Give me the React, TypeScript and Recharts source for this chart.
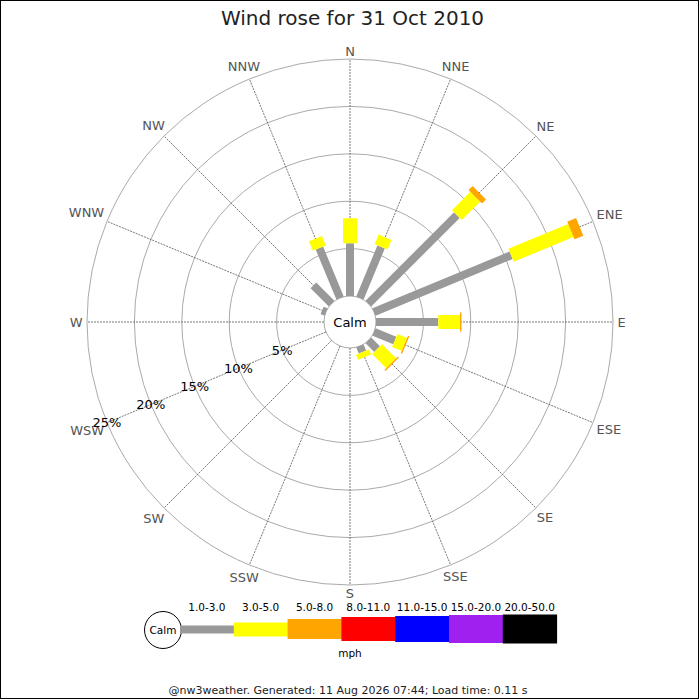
import React from 'react';
import {
  RadarChart,
  Radar,
  PolarGrid,
  PolarAngleAxis,
  PolarRadiusAxis,
  Legend,
  Customized,
} from 'recharts';

// Compass points, clockwise from north
const directions = ['N', 'NNE', 'NE', 'ENE', 'E', 'ESE', 'SE', 'SSE', 'S', 'SSW', 'SW', 'WSW', 'W', 'WNW', 'NW', 'NNW'];

// Speed bands (mph)
const speedBands = ['1.0-3.0', '3.0-5.0', '5.0-8.0', '8.0-11.0', '11.0-15.0', '15.0-20.0', '20.0-50.0'];

// % of the day per direction, one array per speed band
const pct1to3 = [5.56, 5.83, 13.2, 15.65, 6.57, 2.37, 1.3, 0.69, 0, 0, 0, 0, 0, 0.45, 2.72, 5.7];
const pct3to5 = [2.64, 1.1, 2.75, 6.83, 2.29, 1.1, 2.1, 0.58, 0, 0, 0, 0, 0, 0, 0, 1.08];
const pct5to8 = [0, 0, 0.6, 1.0, 0.15, 0.15, 0.15, 0, 0, 0, 0, 0, 0, 0, 0, 0];
const pct8to11 = [0, 0, 0, 0, 0, 0, 0, 0, 0, 0, 0, 0, 0, 0, 0, 0];
const pct11to15 = [0, 0, 0, 0, 0, 0, 0, 0, 0, 0, 0, 0, 0, 0, 0, 0];
const pct15to20 = [0, 0, 0, 0, 0, 0, 0, 0, 0, 0, 0, 0, 0, 0, 0, 0];
const pct20to50 = [0, 0, 0, 0, 0, 0, 0, 0, 0, 0, 0, 0, 0, 0, 0, 0];

const radiusTicks = [0, 5, 10, 15, 20, 25];

const bandSeries = [pct1to3, pct3to5, pct5to8, pct8to11, pct11to15, pct15to20, pct20to50];

// styles
const BAND_COLORS = ['#999999', '#ffff00', '#ffa500', '#ff0000', '#0000ff', '#a020f0', '#000000'];
const BAND_WIDTHS = [8, 14, 19, 23, 25, 27, 28];
const FONT = '"DejaVu Sans", sans-serif';
// rough DejaVu Sans glyph widths (em) for the compass letters
const GLYPH_EM: Record<string, number> = { N: 0.748, E: 0.632, S: 0.635, W: 0.989 };

const W = 697;
const H = 697;
const CX = 349;
const CY = 321;

// each row holds [start, end] of every band, stacked outwards
const chartData = directions.map((dir, i) => {
  const row: Record<string, unknown> = { dir };
  let acc = 0;
  bandSeries.forEach((s, b) => {
    row[`b${b}`] = [acc, acc + s[i]];
    acc += s[i];
  });
  return row;
});

function BandBars(props: any) {
  const { points = [], baseLinePoints = [], barWidth, color } = props;
  return (
    <g>
      {points.map((pt: any, k: number) => {
        const v = pt.value;
        if (!Array.isArray(v) || !(v[1] > v[0])) return null;
        const base = baseLinePoints[k];
        if (!base) return null;
        const dx = pt.x - base.x;
        const dy = pt.y - base.y;
        const len = Math.sqrt(dx * dx + dy * dy) || 1;
        const px = (-dy / len) * (barWidth / 2);
        const py = (dx / len) * (barWidth / 2);
        const poly = [
          [base.x + px, base.y + py],
          [pt.x + px, pt.y + py],
          [pt.x - px, pt.y - py],
          [base.x - px, base.y - py],
        ]
          .map((p) => p.join(','))
          .join(' ');
        return <polygon key={k} points={poly} fill={color} stroke="none" />;
      })}
    </g>
  );
}

// label box sits just outside the outer ring, centred on the spoke
function DirectionTick(props: any) {
  const { x, y, cx, cy, payload } = props;
  const label: string = payload.value;
  const fs = 13;
  const ox = cx ?? CX;
  const oy = cy ?? CY;
  const dx = x - ox;
  const dy = y - oy;
  const len = Math.sqrt(dx * dx + dy * dy) || 1;
  const ux = dx / len;
  const uy = dy / len;
  const halfW = (label.split('').reduce((s, c) => s + (GLYPH_EM[c] ?? 0.7), 0) * fs) / 2;
  const halfH = 3.5;
  const r = 267.5 + halfW * Math.abs(ux) + halfH * Math.abs(uy);
  return (
    <text
      x={ox + ux * r}
      y={oy + uy * r}
      textAnchor="middle"
      dominantBaseline="central"
      fill="#555"
      fontSize={fs}
      fontFamily={FONT}
    >
      {label}
    </text>
  );
}

function PercentTick(props: any) {
  const { x, y, payload } = props;
  if (!payload.value) return <g />;
  return (
    <text x={x} y={y} textAnchor="middle" dominantBaseline="central" fill="#000" fontSize={13} fontFamily={FONT}>
      {payload.value}%
    </text>
  );
}

// legend strip: calm circle then one block per speed band
function SpeedLegend() {
  const x0 = 179;
  const step = 53.8;
  const mid = 38.5;
  return (
    <svg width={W} height={80} style={{ display: 'block', fontFamily: FONT }}>
      <circle cx={162} cy={39} r={18.5} fill="#fff" stroke="#000" />
      <text x={162} y={39} textAnchor="middle" dominantBaseline="central" fontSize={10.5}>
        Calm
      </text>
      {speedBands.map((label, i) => (
        <g key={label}>
          <rect
            x={x0 + i * step}
            y={mid - BAND_WIDTHS[i] / 2 - (i > 1 ? 1 : 0)}
            width={step + 0.5}
            height={BAND_WIDTHS[i] + (i > 1 ? 1 : 0)}
            fill={BAND_COLORS[i]}
          />
          <text x={x0 + (i + 0.5) * step} y={16} textAnchor="middle" dominantBaseline="central" fontSize={10.5} fill="#000">
            {label}
          </text>
        </g>
      ))}
      <text x={349} y={62} textAnchor="middle" dominantBaseline="central" fontSize={10.5} fill="#000">
        mph
      </text>
    </svg>
  );
}

export default function App() {
  return (
    <div
      style={{
        position: 'absolute',
        left: 0,
        top: 0,
        width: 699,
        height: 699,
        border: '1px solid #000',
        boxSizing: 'border-box',
        background: '#fff',
      }}
    >
      <RadarChart
        width={W}
        height={H}
        data={chartData}
        cx={CX}
        cy={CY}
        innerRadius={26}
        outerRadius={263}
        startAngle={90}
        endAngle={-270}
        margin={{ top: 0, right: 0, bottom: 0, left: 0 }}
      >
        <PolarGrid gridType="circle" radialLines={false} stroke="#aaa" strokeWidth={1} />
        <PolarGrid gridType="circle" polarRadius={[]} stroke="#555" strokeWidth={0.8} strokeDasharray="2 1" />
        <PolarAngleAxis dataKey="dir" type="category" axisLine={false} tickLine={false} tick={<DirectionTick />} />
        <PolarRadiusAxis
          angle={202.5}
          type="number"
          domain={[0, 25]}
          ticks={radiusTicks}
          axisLine={false}
          tickLine={false}
          tick={<PercentTick />}
        />
        {bandSeries.map((_, i) => (
          <Radar
            key={speedBands[i]}
            name={speedBands[i]}
            dataKey={`b${i}`}
            stroke="none"
            fill={BAND_COLORS[i]}
            isAnimationActive={false}
            shape={(p: any) => <BandBars {...p} barWidth={BAND_WIDTHS[i]} color={BAND_COLORS[i]} />}
          />
        ))}
        <Legend
          verticalAlign="bottom"
          wrapperStyle={{ position: 'absolute', left: 0, top: 590, width: W, height: 80 }}
          content={() => <SpeedLegend />}
        />
        <Customized
          component={() => (
            <g fontFamily={FONT}>
              <text x={351.5} y={24} textAnchor="middle" fontSize={20} fill="#222">
                Wind rose for 31 Oct 2010
              </text>
              <text x={CX} y={CY} textAnchor="middle" dominantBaseline="central" fontSize={13} fill="#000">
                Calm
              </text>
              <text x={347} y={693} textAnchor="middle" fontSize={11} fill="#222">
                @nw3weather. Generated: 11 Aug 2026 07:44; Load time: 0.11 s
              </text>
            </g>
          )}
        />
      </RadarChart>
    </div>
  );
}
